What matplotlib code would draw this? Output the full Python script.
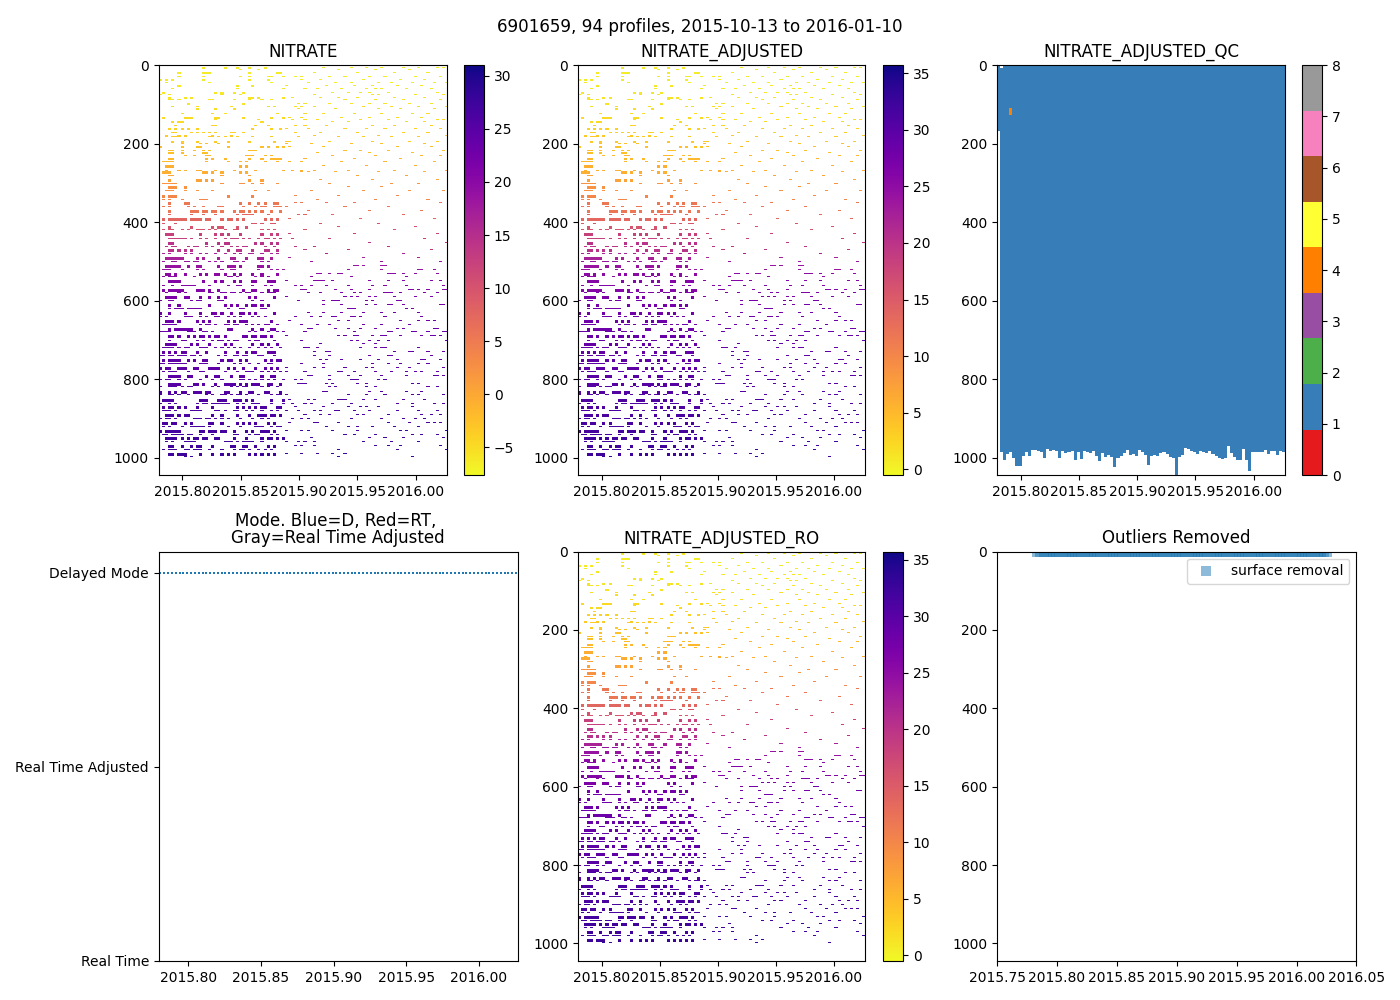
import matplotlib
matplotlib.use("Agg")
import matplotlib.pyplot as plt
import numpy as np

FIG_W, FIG_H = 1400, 1000

PROFILE_TIMES = [
    2015.7810, 2015.7836, 2015.7863, 2015.7889, 2015.7915, 2015.7942, 2015.7968, 2015.7994,
    2015.8020, 2015.8047, 2015.8073, 2015.8099, 2015.8126, 2015.8152, 2015.8178, 2015.8205,
    2015.8231, 2015.8257, 2015.8283, 2015.8310, 2015.8336, 2015.8362, 2015.8389, 2015.8415,
    2015.8441, 2015.8468, 2015.8494, 2015.8520, 2015.8546, 2015.8573, 2015.8599, 2015.8625,
    2015.8652, 2015.8678, 2015.8704, 2015.8731, 2015.8757, 2015.8783, 2015.8809, 2015.8836,
    2015.8862, 2015.8888, 2015.8915, 2015.8941, 2015.8967, 2015.8994, 2015.9020, 2015.9046,
    2015.9072, 2015.9099, 2015.9125, 2015.9151, 2015.9178, 2015.9204, 2015.9230, 2015.9257,
    2015.9283, 2015.9309, 2015.9335, 2015.9362, 2015.9388, 2015.9414, 2015.9441, 2015.9467,
    2015.9493, 2015.9520, 2015.9546, 2015.9572, 2015.9598, 2015.9625, 2015.9651, 2015.9677,
    2015.9704, 2015.9730, 2015.9756, 2015.9783, 2015.9809, 2015.9835, 2015.9861, 2015.9888,
    2015.9914, 2015.9940, 2015.9967, 2015.9993, 2016.0019, 2016.0046, 2016.0072, 2016.0098,
    2016.0124, 2016.0151, 2016.0177, 2016.0203, 2016.0230, 2016.0256,
]

# nitrate per 25 dbar band
NITRATE_BANDS = [
    -6.4, -6.4, -6.1, -5.7, -5.3, -4.9, -4.1, -3.4, -2.6, -1.8, -0.7, 0.5, 2.1, 3.6,
    5.5, 7.5, 9.8, 12.5, 14.4, 16.7, 18.6, 19.8, 20.6, 21.4, 22.1, 22.5, 22.9, 23.3,
    23.7, 24.0, 24.4, 24.8, 25.2, 25.6, 26.0, 26.2, 26.4, 26.8, 27.1, 27.5, 27.9,
]
ADJUSTED_BANDS = [
    0.6, 0.6, 0.9, 1.3, 1.7, 2.0, 2.8, 3.5, 4.2, 4.9, 6.0, 7.1, 8.6, 10.0,
    11.8, 13.6, 15.8, 18.3, 20.1, 22.3, 24.1, 25.2, 25.9, 26.6, 27.4, 27.7, 28.1, 28.5,
    28.8, 29.2, 29.5, 29.9, 30.3, 30.6, 31.0, 31.2, 31.4, 31.7, 32.1, 32.4, 32.8,
]
ADJUSTED_RO_BANDS = [
    0.6, 0.7, 0.9, 1.3, 1.7, 2.1, 2.8, 3.5, 4.3, 5.0, 6.1, 7.2, 8.7, 10.1,
    11.9, 13.7, 15.9, 18.4, 20.2, 22.4, 24.2, 25.3, 26.0, 26.7, 27.5, 27.8, 28.2, 28.6,
    28.9, 29.3, 29.6, 30.0, 30.4, 30.7, 31.1, 31.3, 31.5, 31.8, 32.2, 32.5, 32.9,
]

ROW_DEPTHS = [
    6, 11, 19, 30, 36, 44, 51, 60, 70, 75, 83, 88, 98, 106, 110, 123, 133, 140, 145, 153,
    163, 172, 179, 183, 194, 200, 208, 217, 223, 230, 238, 247, 255, 268, 272, 282, 293,
    302, 310, 319, 332, 342, 350, 361, 371, 381, 391, 404, 412, 419, 430, 442, 452, 462,
    471, 481, 491, 501, 512, 520, 531, 540, 550, 561, 571, 581, 591, 601, 610, 620, 631,
    642, 650, 661, 672, 680, 690, 701, 710, 720, 729, 740, 751, 762, 772, 782, 792, 802,
    812, 820, 831, 841, 853, 863, 871, 881, 891, 901, 911, 921, 931, 941, 950, 960, 971,
    980, 989, 997,
]
ROW_PROFILES = [
    [14, 21, 25, 29, 34, 53, 62, 67, 72, 79, 84, 90, 92],
    [26, 32, 58, 70, 81],
    [6, 14, 15, 16, 29, 38, 39, 50, 64, 76, 87],
    [6, 14, 26, 29, 35, 36, 40, 44, 46, 55, 60, 68, 73, 83, 91],
    [0, 2, 4, 14, 29, 35, 46, 52, 66, 78, 86],
    [2, 16, 36, 48, 57, 62, 71, 75, 82, 89, 93],
    [6, 25, 30, 41, 54, 63, 69, 77, 85],
    [4, 25, 40, 47, 51, 59, 67, 70, 72, 80, 88],
    [1, 18, 20, 24, 27, 56, 61, 65, 68, 74, 90],
    [0, 3, 20, 26, 50, 69, 71, 83, 92],
    [3, 8, 10, 29, 30, 32, 40, 43, 52, 58, 64, 76, 86],
    [3, 4, 6, 16, 17, 24, 29, 33, 36, 60, 70, 79, 91],
    [9, 27, 45, 47, 55, 62, 68, 73, 81, 88],
    [4, 12, 23, 35, 37, 44, 46, 50, 66, 75, 84, 93],
    [12, 18, 24, 45, 57, 71, 78, 89],
    [7, 17, 21, 38, 47, 53, 63, 72, 82, 87],
    [1, 8, 9, 10, 18, 19, 27, 36, 40, 42, 46, 59, 68, 77, 85],
    [18, 32, 43, 47, 51, 65, 74, 90, 92],
    [4, 6, 7, 33, 56, 61, 80, 86],
    [5, 17, 18, 31, 35, 44, 47, 54, 69, 76, 88],
    [3, 5, 7, 9, 12, 30, 36, 39, 41, 48, 60, 67, 73, 83, 91],
    [4, 5, 10, 12, 14, 16, 18, 23, 24, 27, 44, 52, 64, 79, 87],
    [2, 6, 8, 17, 23, 50, 71, 93],
    [4, 5, 16, 19, 21, 25, 30, 36, 45, 58, 66, 75, 84],
    [4, 7, 12, 18, 22, 29, 37, 41, 42, 55, 69, 81, 90],
    [7, 13, 15, 19, 41, 49, 62, 72, 86],
    [0, 7, 12, 13, 22, 33, 35, 38, 40, 42, 53, 77, 88],
    [3, 4, 7, 11, 14, 16, 29, 30, 31, 60, 65, 74, 92],
    [3, 4, 7, 14, 15, 51, 68, 82],
    [8, 11, 15, 16, 28, 29, 30, 34, 36, 56, 70, 85, 91],
    [3, 4, 15, 17, 21, 29, 33, 36, 37, 38, 39, 47, 63, 78],
    [1, 2, 3, 4, 15, 22, 26, 28, 34, 38, 42, 46, 59, 73, 89],
    [2, 3, 4, 26, 28, 53, 67, 83],
    [2, 6, 8, 12, 13, 18, 24, 31, 40, 43, 46, 50, 61, 76, 93],
    [1, 2, 3, 14, 15, 17, 20, 26, 28, 46, 48, 57, 71, 86],
    [3, 4, 20, 29, 64, 80],
    [3, 12, 13, 15, 17, 29, 33, 52, 69, 90],
    [1, 2, 3, 4, 5, 20, 26, 27, 30, 33, 38, 55, 75, 84],
    [3, 4, 5, 8, 61, 72],
    [2, 3, 4, 8, 12, 17, 31, 35, 49, 66, 81, 92],
    [1, 3, 4, 5, 22, 30, 44, 58, 77],
    [1, 3, 7, 13, 14, 15, 51, 70, 87],
    [3, 8, 9, 26, 29, 32, 34, 37, 38, 44, 46, 54, 63, 91],
    [1, 3, 9, 11, 14, 19, 20, 27, 31, 33, 34, 37, 38, 39, 41, 60, 74],
    [3, 10, 11, 12, 14, 15, 17, 18, 20, 24, 26, 27, 29, 31, 33, 36, 39, 48, 68, 85],
    [3, 10, 14, 18, 25, 27, 28, 29, 30, 35, 45, 47, 56, 79],
    [1, 3, 4, 5, 6, 7, 8, 10, 11, 12, 13, 15, 16, 20, 22, 23, 25, 27, 34, 36, 38, 42, 65, 89],
    [1, 5, 30, 31, 33, 36, 37, 52, 71],
    [3, 10, 17, 19, 20, 25, 28, 58, 83],
    [1, 3, 4, 7, 9, 12, 13, 14, 16, 18, 21, 24, 25, 33, 35, 37, 47, 76],
    [2, 3, 4, 13, 18, 20, 22, 26, 33, 36, 38, 42, 63, 90],
    [3, 4, 5, 6, 7, 8, 10, 13, 15, 18, 21, 23, 24, 25, 27, 29, 32, 34, 35, 37, 39, 43, 55, 86],
    [3, 4, 15, 19, 21, 22, 31, 33, 36, 38, 68, 93],
    [2, 4, 5, 9, 11, 12, 15, 17, 20, 23, 25, 27, 28, 34, 37, 44, 50, 74],
    [3, 4, 6, 8, 10, 19, 22, 25, 26, 30, 34, 35, 38, 47, 61, 88],
    [1, 3, 8, 10, 13, 15, 18, 21, 24, 26, 29, 30, 33, 36, 38, 54, 79],
    [2, 3, 4, 5, 6, 7, 12, 14, 19, 23, 24, 28, 32, 33, 36, 42, 66, 84],
    [1, 4, 5, 8, 9, 11, 12, 16, 18, 20, 24, 25, 27, 33, 35, 49, 72, 91],
    [2, 3, 4, 5, 6, 9, 12, 13, 19, 22, 23, 24, 26, 32, 33, 35, 63, 64, 66, 72, 73],
    [1, 2, 3, 7, 12, 14, 20, 23, 24, 32, 36, 38, 40, 61, 72, 84, 85, 89],
    [2, 3, 5, 8, 13, 15, 18, 19, 21, 24, 26, 30, 33, 38, 51, 52, 55, 58, 59, 74, 75, 76, 79, 83, 90],
    [1, 3, 4, 5, 11, 22, 23, 25, 31, 33, 35, 49, 62, 80],
    [3, 4, 5, 6, 14, 18, 20, 24, 26, 30, 31, 35, 36, 37, 41, 50, 51, 52, 53, 56, 68, 74, 79, 88, 91],
    [1, 4, 7, 8, 9, 10, 11, 16, 22, 25, 26, 30, 34, 36, 44, 46, 49, 54, 61, 69, 73, 80, 92],
    [1, 3, 4, 5, 6, 7, 12, 13, 14, 16, 19, 27, 30, 31, 35, 37, 38, 46, 47, 57, 62, 68, 81, 82, 84, 87, 92, 93],
    [2, 6, 8, 16, 17, 20, 21, 23, 24, 26, 28, 29, 33, 35, 36, 37, 48, 52, 59, 63, 65, 73, 74, 75, 78, 86, 90],
    [2, 3, 4, 5, 8, 9, 13, 16, 19, 21, 29, 31, 37, 41, 60, 62, 64, 68, 70, 76, 83, 88],
    [0, 3, 4, 10, 12, 13, 19, 20, 30, 33, 45, 53, 56, 57, 58, 67, 69, 77, 78],
    [3, 6, 16, 21, 23, 25, 28, 30, 31, 33, 35, 53, 59, 67, 70, 74, 75, 79, 91, 92],
    [3, 5, 6, 7, 9, 10, 11, 12, 13, 22, 26, 27, 33, 34, 61, 62, 63, 80, 82],
    [0, 3, 8, 13, 17, 18, 20, 23, 26, 27, 29, 31, 37, 48, 53, 59, 66, 72, 76, 84],
    [0, 2, 8, 9, 10, 13, 15, 18, 19, 22, 24, 26, 30, 32, 34, 44, 49, 52, 56, 57, 62, 63, 65, 73, 85],
    [2, 3, 4, 6, 12, 14, 16, 22, 24, 26, 27, 28, 36, 42, 58, 61, 78, 84, 87, 89],
    [1, 2, 3, 4, 5, 13, 15, 16, 18, 21, 22, 24, 25, 28, 30, 32, 34, 35, 38, 46, 51, 55, 66, 72, 81],
    [3, 5, 6, 7, 8, 9, 10, 13, 22, 23, 30, 33, 36, 37, 48, 49, 57, 61, 65, 70, 77, 79, 89, 90],
    [0, 1, 2, 3, 9, 10, 11, 14, 15, 17, 29, 31, 35, 38, 40, 47, 63, 74, 75, 82, 83, 87, 92, 93],
    [3, 4, 6, 9, 11, 13, 14, 16, 18, 19, 21, 27, 28, 30, 31, 33, 34, 36, 41, 58, 60, 63, 64, 69, 72, 73, 78, 85, 88, 89, 91],
    [3, 7, 8, 12, 14, 17, 19, 20, 22, 24, 25, 29, 31, 32, 37, 46, 62, 64, 68, 71, 74, 93],
    [2, 3, 4, 5, 10, 12, 16, 21, 23, 30, 33, 35, 38, 52, 66, 70],
    [1, 2, 3, 4, 6, 8, 9, 13, 14, 15, 18, 20, 22, 24, 26, 29, 32, 34, 36, 39, 47, 48, 51, 65, 70, 72, 73, 84],
    [1, 3, 5, 7, 8, 12, 15, 21, 25, 28, 30, 31, 35, 36, 37, 50, 54, 55, 76, 81, 82, 87, 92],
    [0, 1, 3, 4, 6, 7, 8, 10, 11, 13, 19, 21, 24, 25, 27, 28, 32, 33, 37, 50, 55, 68, 74, 75, 88],
    [1, 3, 4, 5, 6, 9, 11, 14, 15, 20, 22, 23, 26, 28, 34, 36, 38, 39, 52, 54, 59, 65, 71, 77, 85, 86, 91],
    [0, 1, 3, 4, 5, 6, 7, 8, 13, 14, 15, 19, 24, 26, 29, 32, 35, 36, 46, 53, 69, 74, 78, 84, 87],
    [0, 2, 3, 6, 7, 8, 11, 12, 16, 17, 18, 19, 22, 24, 27, 31, 34, 36, 38, 41, 50, 53, 60, 67, 69, 77, 81, 92],
    [1, 3, 4, 5, 9, 13, 14, 21, 25, 28, 29, 30, 33, 35, 37, 39, 41, 47, 58, 59, 63, 70, 75, 80, 83, 85, 90],
    [3, 4, 5, 6, 9, 10, 15, 18, 19, 23, 26, 27, 33, 36, 37, 48, 49, 55, 61, 65, 72, 80, 89, 90, 92],
    [0, 2, 3, 6, 8, 13, 17, 20, 26, 27, 29, 31, 33, 35, 37, 40, 44, 46, 55, 62, 63, 64, 71, 73],
    [3, 4, 5, 6, 11, 12, 14, 18, 21, 22, 23, 24, 26, 28, 30, 31, 32, 35, 36, 39, 45, 46, 47, 54, 56, 64, 67, 82, 84],
    [0, 3, 4, 5, 7, 9, 10, 17, 19, 23, 25, 27, 28, 33, 35, 38, 55, 57, 67, 70, 87, 90],
    [0, 3, 5, 7, 8, 11, 12, 13, 15, 16, 21, 22, 26, 29, 30, 34, 35, 39, 53, 54, 68, 72, 80, 85],
    [0, 3, 4, 6, 9, 15, 17, 20, 21, 23, 25, 26, 28, 32, 36, 38, 39, 41, 61, 67, 73, 82, 84, 92],
    [1, 2, 3, 4, 13, 14, 15, 19, 20, 21, 24, 25, 26, 28, 30, 36, 40, 42, 48, 50, 58, 59, 60, 66, 70, 79, 86],
    [0, 3, 5, 12, 14, 15, 17, 18, 19, 20, 21, 22, 25, 27, 30, 31, 32, 36, 40, 43, 47, 49, 56, 62, 77, 82, 89, 92],
    [1, 3, 4, 6, 8, 12, 17, 25, 27, 29, 31, 33, 34, 38, 39, 44, 53, 61, 65, 67, 71, 82],
    [1, 2, 3, 5, 10, 11, 12, 13, 18, 19, 21, 24, 25, 28, 30, 33, 36, 38, 41, 45, 50, 52, 57, 58, 63, 68, 77, 84, 90],
    [2, 3, 4, 6, 8, 9, 17, 20, 25, 29, 32, 33, 34, 36, 37, 39, 47, 52, 55, 64, 66, 74, 85, 88, 91],
    [0, 2, 3, 5, 11, 12, 13, 15, 16, 18, 20, 22, 26, 30, 33, 35, 43, 46, 48, 62, 72, 79, 83, 86],
    [1, 2, 4, 5, 8, 10, 16, 17, 20, 25, 27, 29, 31, 35, 37, 42, 50, 51, 58, 74, 81, 87, 89, 91],
    [1, 3, 7, 10, 11, 12, 13, 14, 16, 22, 26, 31, 32, 33, 36, 38, 39, 54, 61, 64, 69, 76, 84],
    [0, 2, 3, 4, 5, 6, 13, 14, 16, 17, 18, 20, 21, 24, 28, 30, 33, 34, 35, 37, 41, 46, 48, 56, 64, 78, 80, 93],
    [1, 2, 4, 5, 6, 7, 9, 10, 13, 17, 24, 25, 29, 31, 32, 36, 38, 60, 63, 70, 82, 85, 90],
    [2, 3, 4, 5, 7, 9, 11, 12, 14, 15, 18, 19, 24, 28, 33, 35, 36, 38, 40, 49, 68, 73, 79, 92],
    [2, 4, 8, 9, 10, 11, 21, 22, 23, 25, 27, 28, 29, 30, 33, 41, 45, 47, 50, 66, 75, 84],
    [3, 4, 7, 10, 12, 13, 17, 23, 24, 27, 28, 31, 35, 37, 44, 46, 50, 70, 74, 78, 91],
    [1, 3, 4, 5, 8, 9, 11, 12, 13, 16, 20, 24, 26, 27, 29, 32, 34, 36, 58, 77, 93],
    [3, 4, 6, 7, 8, 13, 17, 20, 22, 24, 29, 31, 33, 35, 37, 41, 46, 51, 56, 60],
    [8, 10, 58, 82],
]

# bottom of the QC column for each profile, dbar
QC_BOTTOM = [
    170, 988, 1007, 994, 988, 1003, 1024, 1024, 998, 988, 998, 983, 983, 986, 988, 1002,
    980, 986, 983, 986, 1002, 986, 990, 988, 986, 1008, 987, 1005, 984, 988, 990, 985,
    998, 1010, 990, 1000, 996, 1000, 1025, 1002, 998, 990, 982, 995, 992, 998, 982, 987,
    996, 1020, 998, 995, 998, 990, 988, 992, 1000, 1003, 1045, 1000, 995, 978, 980, 984,
    988, 994, 985, 987, 990, 985, 992, 997, 1003, 1005, 1004, 972, 990, 1000, 1007, 1008,
    980, 1008, 1035, 987, 987, 988, 987, 983, 992, 985, 984, 996, 985, 988,
]
QC_BAD_PROFILE = 4
QC_BAD_DEPTHS = [112, 128]
QC_GAP_PROFILE = 1
QC_GAP_DEPTH = 10

MODE_VALUE = 2
MODE_TICKS = [0, 1, 2]
MODE_LABELS = ["Real Time", "Real Time Adjusted", "Delayed Mode"]
OUTLIER_DEPTHS = [0]

TIME_TICKS = [2015.80, 2015.85, 2015.90, 2015.95, 2016.00]
OUTLIER_TICKS = [2015.75, 2015.80, 2015.85, 2015.90, 2015.95, 2016.00, 2016.05]
DEPTH_TICKS = [0, 200, 400, 600, 800, 1000]

XLIM = (2015.7797, 2016.0269)
YLIM = (1045, 0)
N_ROWS = 410
STEP = 1045 / N_ROWS


def axes_px(fig, left, top, right, bottom):
    return fig.add_axes([left / FIG_W, 1 - bottom / FIG_H, (right - left) / FIG_W, (bottom - top) / FIG_H])


def nitrate_grid(bands):
    grid = np.full((N_ROWS, len(PROFILE_TIMES)), np.nan)
    for r, (depth, profiles) in enumerate(zip(ROW_DEPTHS, ROW_PROFILES)):
        value = bands[int(depth // 25)]
        first = int(depth / STEP)
        for p in profiles:
            # early profiles have coarser sampling, more so below the surface layer
            if p < 41 and r % 2 == 0:
                bins = 3 if depth > 250 else 2
            else:
                bins = 1
            grid[first:first + bins, p] = value
    return np.ma.masked_invalid(grid)


def qc_grid():
    grid = np.full((N_ROWS, len(PROFILE_TIMES)), np.nan)
    for p, bottom in enumerate(QC_BOTTOM):
        grid[: int(bottom / STEP), p] = 1
    grid[: int(QC_GAP_DEPTH / STEP), QC_GAP_PROFILE] = np.nan
    grid[int(QC_BAD_DEPTHS[0] / STEP): int(QC_BAD_DEPTHS[1] / STEP), QC_BAD_PROFILE] = 4
    return np.ma.masked_invalid(grid)


def depth_panel(fig, box, cbox, title, grid, cmap, vmin, vmax):
    ax = axes_px(fig, *box)
    extent = (XLIM[0], XLIM[1], YLIM[0], YLIM[1])
    image = ax.imshow(grid, cmap=cmap, vmin=vmin, vmax=vmax, aspect="auto", extent=extent,
                      interpolation="nearest", origin="upper")
    ax.set_xlim(*XLIM)
    ax.set_ylim(*YLIM)
    ax.set_xticks(TIME_TICKS, [f"{t:.2f}" for t in TIME_TICKS])
    ax.set_yticks(DEPTH_TICKS)
    ax.set_title(title)
    cax = axes_px(fig, *cbox)
    fig.colorbar(image, cax=cax)
    return ax


def main():
    fig = plt.figure(figsize=(FIG_W / 100, FIG_H / 100), dpi=100)
    fig.text(0.5, 0.973, "6901659, 94 profiles, 2015-10-13 to 2016-01-10", ha="center", va="center", fontsize=12.1)

    depth_panel(fig, (158.6, 65.3, 447, 475.3), (464, 65.1, 484, 475.1), "NITRATE",
                nitrate_grid(NITRATE_BANDS), "plasma_r", -7.6, 31.0)
    depth_panel(fig, (578, 65.3, 865, 475.3), (883, 65.1, 903, 475.1), "NITRATE_ADJUSTED",
                nitrate_grid(ADJUSTED_BANDS), "plasma_r", -0.5, 35.7)
    depth_panel(fig, (997, 65.3, 1285, 475.3), (1302, 65.1, 1322, 475.1), "NITRATE_ADJUSTED_QC",
                qc_grid(), plt.get_cmap("Set1", 9), 0, 8)
    depth_panel(fig, (578, 551.6, 865, 961), (883, 551.6, 903, 961), "NITRATE_ADJUSTED_RO",
                nitrate_grid(ADJUSTED_RO_BANDS), "plasma_r", -0.5, 35.7)

    ax_mode = axes_px(fig, 158.6, 551.6, 518, 961)
    ax_mode.scatter(PROFILE_TIMES, [MODE_VALUE] * len(PROFILE_TIMES), s=4, marker="s", color="#1f77b4", linewidths=0)
    ax_mode.set_xlim(*XLIM)
    ax_mode.set_ylim(0, 2.11)
    ax_mode.set_xticks(TIME_TICKS, [f"{t:.2f}" for t in TIME_TICKS])
    ax_mode.set_yticks(MODE_TICKS, MODE_LABELS)
    ax_mode.set_title("Mode. Blue=D, Red=RT, \nGray=Real Time Adjusted", linespacing=0.97)

    ax_out = axes_px(fig, 997, 551.6, 1356.4, 961)
    for depth in OUTLIER_DEPTHS:
        ax_out.scatter(PROFILE_TIMES[1:], [depth] * (len(PROFILE_TIMES) - 1), s=50, marker="s", color="#1f77b4",
                       alpha=0.5, linewidths=0, label="surface removal")
    ax_out.set_xlim(2015.75, 2016.05)
    ax_out.set_ylim(*YLIM)
    ax_out.set_xticks(OUTLIER_TICKS, [f"{t:.2f}" for t in OUTLIER_TICKS])
    ax_out.set_yticks(DEPTH_TICKS)
    ax_out.set_title("Outliers Removed")
    ax_out.legend(loc="upper right")

    fig.savefig("out.png", dpi=100)


if __name__ == "__main__":
    main()
